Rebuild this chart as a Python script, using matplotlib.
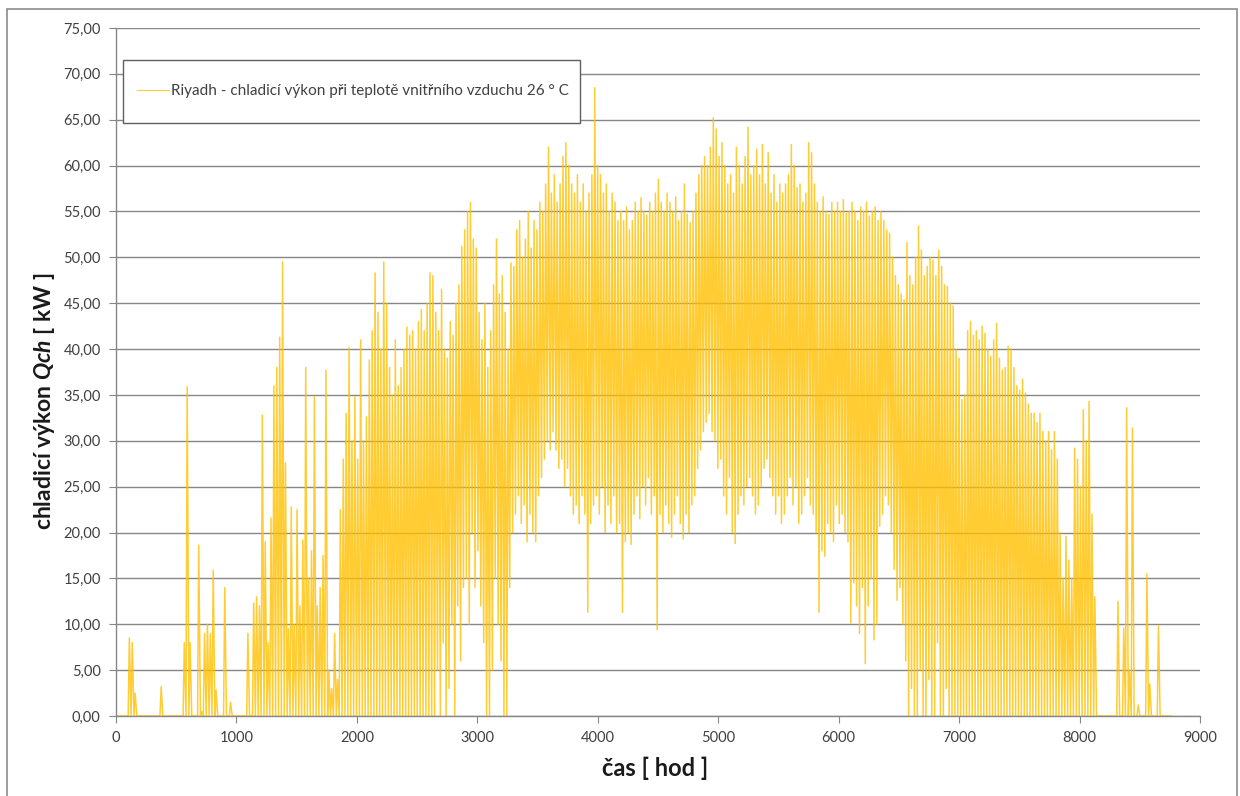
import numpy as np
import matplotlib
matplotlib.use("Agg")
import matplotlib.pyplot as plt
from matplotlib.patches import Rectangle
from matplotlib.ticker import FuncFormatter, MultipleLocator

plt.rcParams['font.family'] = ['Lato', 'DejaVu Sans']
plt.rcParams['mathtext.fontset'] = 'custom'
plt.rcParams['mathtext.it'] = 'Lato:italic:bold'
plt.rcParams['mathtext.rm'] = 'Lato:bold'

# daily peak of the cooling load [kW], day 0..364
peak = [
    0, 0, 0, 0, 8.5, 8, 2.5, 0, 0, 0,
    0, 0, 0, 0, 0, 3.2, 0, 0, 0, 0,
    0, 0, 0, 8, 35.9, 8, 0, 0, 18.6, 0.5,
    9, 10, 9, 15.9, 2.8, 0, 0, 14, 0, 1.5,
    0, 0, 0, 0, 0, 9, 0, 12.3, 13, 12,
    32.8, 19, 8, 21.6, 36, 38, 41.3, 49.5, 27.6, 9.5,
    22.8, 10, 22.5, 12, 19.2, 38, 15, 18, 34.8, 12,
    14, 17.5, 37.7, 5, 3, 9, 4, 22.5, 28, 33,
    40.2, 30, 34.8, 28, 41, 30, 32.6, 38.8, 42, 48.3,
    44, 40, 49.5, 45, 38, 35, 41, 36, 38, 40,
    42.4, 41.5, 42, 40, 43, 44.3, 42, 45, 48.3, 48,
    44, 42, 46.5, 40, 39, 43, 41.5, 45, 47, 51.2,
    53, 55, 56, 52, 51, 44, 41, 45, 38, 42,
    47, 52, 46, 48, 44, 40, 49.4, 49, 53, 54,
    50, 52, 55, 51, 54, 53, 56, 55, 58, 62,
    57, 59, 56, 58, 61, 62.5, 60, 58, 57, 59,
    56, 58, 55, 57, 59, 68.5, 60, 59, 57, 58,
    55, 57, 56, 54, 55, 54, 55.5, 53, 54, 56,
    55, 56.5, 55, 54.6, 56, 55, 57, 58.5, 56, 55,
    57, 56, 55, 56.6, 54, 55, 58, 54.7, 53.8, 55,
    57, 59, 60, 61, 60, 62, 65.2, 64, 61, 62.5,
    60, 58, 59, 57, 62, 60, 58, 61, 64.2, 59,
    60, 61.8, 59, 62.3, 58, 61.4, 57, 59, 56, 58,
    57, 58, 59, 62.3, 60, 57.6, 58, 56, 57, 62.5,
    61.4, 58, 56, 55, 56.6, 55, 54.7, 56, 55, 56,
    55, 56.3, 54.8, 55, 56, 55, 54, 55.5, 55, 56,
    54.5, 55, 55.5, 54, 55, 54, 53, 52.6, 50, 48,
    47, 46, 45.4, 51.6, 48, 47, 50, 53.4, 50.8, 48,
    49, 50, 49.7, 48, 50.8, 49, 47, 46.8, 45, 44.7,
    40, 39, 34.5, 35, 42, 43, 41.5, 42, 41, 42.5,
    41.7, 40, 39.2, 41, 42.8, 39, 37.7, 38, 40.3, 40,
    38, 36, 35.5, 36.7, 35.2, 34, 33, 33, 32, 33,
    31, 30, 31, 29, 31, 28, 20, 15, 19.6, 17,
    15, 29.2, 28, 25, 33.4, 30, 34.3, 22, 13, 0,
    0, 0, 0, 0, 0, 0, 12.5, 0, 9.6, 33.6,
    5, 31.4, 0, 1.2, 0, 0, 15.5, 3.5, 0, 0,
    9.8, 0, 0, 0, 0,
]

# daily minimum of the cooling load [kW]
trough = (
    [0.0] * 110
    + [0, 5, 0, 8, 0, 3, 10, 0, 12, 6, 14, 15, 10, 20]
    + [14, 18, 12, 8, 0, 0, 5, 15, 10, 6, 0, 0, 14, 20]
    + [22, 24, 21, 23, 19, 22, 20, 19, 24, 26]
    + [28, 30, 29, 31, 29, 27, 28, 25, 27]
    + [24, 22, 23, 21, 24, 22, 11.3, 21, 23]
    + [24, 22, 25, 20, 23, 21, 24, 20]
    + [21, 11.3, 19, 20, 18.7]
    + [22, 24, 21.5, 25, 23, 26, 22, 24]
    + [9.4, 22, 20, 23, 21, 19.5, 22, 24, 21, 19.3, 22, 20, 23, 24]
    + [27, 29, 31, 32, 33, 31, 30, 27, 28]
    + [24, 22, 26, 20, 18.8, 22, 24, 23, 25, 26, 24, 22]
    + [23, 25, 27, 28, 26, 24, 22, 24, 21]
    + [22, 24, 26, 23, 25, 21, 22, 24, 26, 23, 22]
    + [20, 11.3, 18, 17.4, 21, 20, 19]
    + [23, 21, 22, 20, 19]
    + [10.1, 14.5, 12, 9, 14, 5.7, 12, 15, 8.3, 10, 20.7]
    + [22, 24, 23, 20, 16, 12.6, 14, 10, 6, 0, 3, 0, 0, 5, 0]
    + [0, 4, 0, 0, 8, 0, 0, 3, 0, 0]
    + [0.0] * 75
)

series_label = "Riyadh - chladicí výkon při teplotě vnitřního vzduchu 26 ° C"
x_label = "čas [ hod ]"
y_label = "chladicí výkon $\\mathit{Qch}$ [ kW ]"

gold = '#FFC000'
grey = '#868686'
text_col = '#404040'

# night minimum early in the day, afternoon peak later
day_start = np.arange(len(peak)) * 24
hours = np.column_stack([day_start + 5, day_start + 15]).ravel()
load = np.column_stack([trough, peak]).ravel()
hours = np.concatenate([[0], hours, [len(peak) * 24]])
load = np.concatenate([[0], load, [0]])

fig = plt.figure(figsize=(12.4, 7.96), dpi=100)
ax = fig.add_axes([116 / 1240, 1 - 716 / 796, 1084 / 1240, 688 / 796])

ax.plot(hours, load, color=gold, lw=1.1, alpha=0.8, label=series_label)

ax.set_xlim(0, 9000)
ax.set_ylim(0, 75)
ax.xaxis.set_major_locator(MultipleLocator(1000))
ax.yaxis.set_major_locator(MultipleLocator(5))
ax.yaxis.set_major_formatter(FuncFormatter(lambda v, p: f"{v:.2f}".replace('.', ',')))
ax.grid(axis='y', color=grey, lw=1)
ax.set_axisbelow(True)
for s in ['top', 'right']:
    ax.spines[s].set_visible(False)
for s in ['left', 'bottom']:
    ax.spines[s].set_color(grey)
    ax.spines[s].set_linewidth(1)
ax.tick_params(direction='out', length=5, color=grey, labelsize=10.5,
               labelcolor=text_col, pad=6)

fig.text(655 / 1240, 1 - 768 / 796, x_label, fontsize=17, fontweight='bold',
         color='#1a1a1a', ha='center', va='center')
fig.text(45 / 1240, 1 - 401 / 796, y_label, fontsize=16.5, fontweight='bold',
         color='#1a1a1a', ha='center', va='center', rotation=90)

# legend box
ax.add_patch(Rectangle((7 / 1084, (716 - 123) / 688), 457 / 1084, 63 / 688,
                       transform=ax.transAxes, facecolor='white',
                       edgecolor='#5f5f5f', lw=1, zorder=4))
leg = ax.legend(loc='center left', bbox_to_anchor=(21 / 1084, (716 - 91) / 688),
                frameon=False, fontsize=11, borderpad=0, borderaxespad=0,
                handlelength=2.1, handletextpad=0.15)
leg.set_zorder(5)
leg.get_lines()[0].set_linewidth(0.8)
for t in leg.get_texts():
    t.set_color(text_col)

fig.patches.append(Rectangle((7 / 1240, -0.01), 1230 / 1240, 1 - 9 / 796 + 0.01,
                             transform=fig.transFigure, fill=False,
                             edgecolor='#8c8c8c', lw=1.2))

fig.savefig('out.png', dpi=100)
